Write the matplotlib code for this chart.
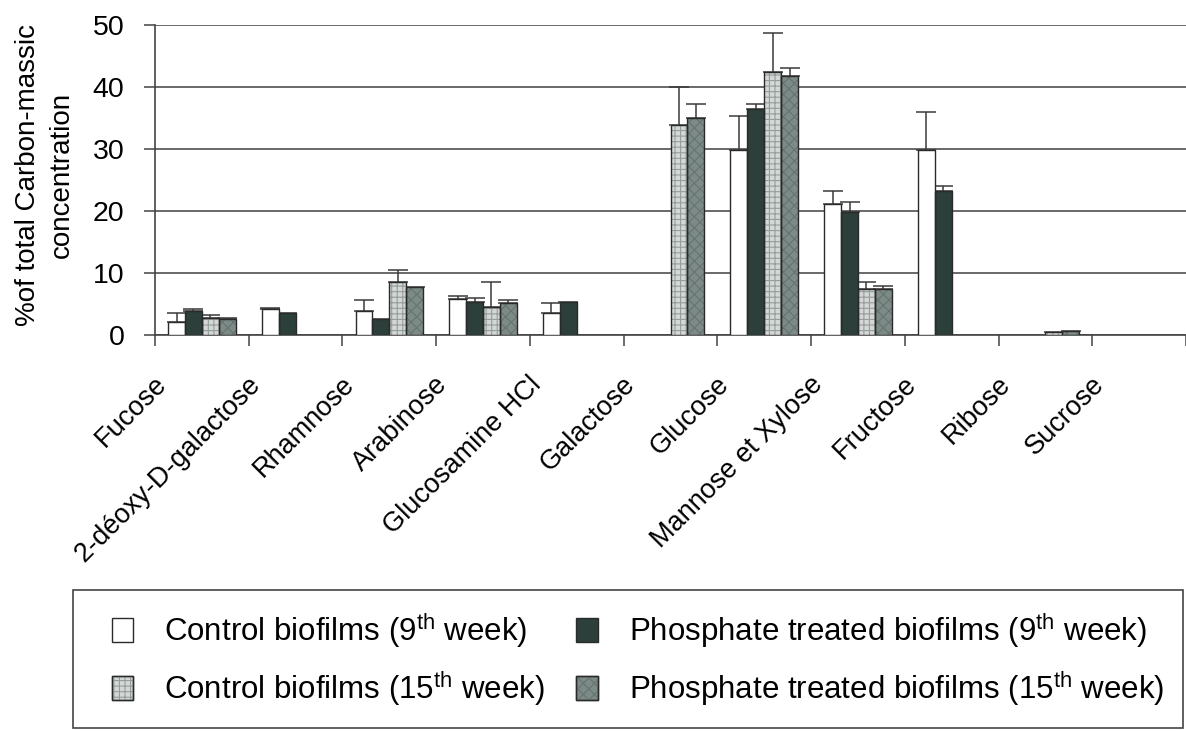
import numpy as np
import matplotlib.pyplot as plt
import matplotlib.transforms as mtransforms
from matplotlib.patches import Patch, Rectangle
from matplotlib.legend_handler import HandlerTuple

plt.rcParams['font.family'] = ['Liberation Sans', 'DejaVu Sans']
plt.rcParams['mathtext.fontset'] = 'custom'
plt.rcParams['mathtext.rm'] = 'Liberation Sans'
plt.rcParams['hatch.linewidth'] = 0.8

nan = np.nan
categories = ['Fucose', '2-déoxy-D-galactose', 'Rhamnose', 'Arabinose', 'Glucosamine HCl',
              'Galactose', 'Glucose', 'Mannose et Xylose', 'Fructose', 'Ribose', 'Sucrose']

control_9 = [2.1, 4.2, 3.9, 5.8, 3.6, nan, 29.9, 21.2, 29.9, nan, nan]
control_9_err = [1.4, 0.2, 1.7, 0.5, 1.6, nan, 5.5, 2.0, 6.1, nan, nan]
phosphate_9 = [3.9, 3.5, 2.5, 5.3, 5.3, nan, 36.5, 19.9, 23.2, nan, nan]
phosphate_9_err = [0.3, nan, nan, 0.6, nan, nan, 0.7, 1.6, 0.9, nan, nan]
control_15 = [2.7, nan, 8.5, 4.5, nan, 33.9, 42.5, 7.4, nan, 0.5, nan]
control_15_err = [0.5, nan, 2.0, 4.0, nan, 6.1, 6.2, 1.1, nan, nan, nan]
phosphate_15 = [2.6, nan, 7.8, 5.1, nan, 35.0, 41.7, 7.4, nan, 0.6, nan]
phosphate_15_err = [0.2, nan, nan, 0.6, nan, 2.2, 1.3, 0.5, nan, nan, nan]

labels = ['Control biofilms (9$^{\\mathrm{th}}$ week)',
          'Control biofilms (15$^{\\mathrm{th}}$ week)',
          'Phosphate treated biofilms (9$^{\\mathrm{th}}$ week)',
          'Phosphate treated biofilms (15$^{\\mathrm{th}}$ week)']

# face, hatch, hatch colour
styles = [('white', None, None),
          ('#2c3f3b', None, None),
          ('#d3d8d6', '+++', '#959e9b'),
          ('#7d8b88', 'xxx', '#66736f')]
series = [(control_9, control_9_err), (phosphate_9, phosphate_9_err),
          (control_15, control_15_err), (phosphate_15, phosphate_15_err)]

fig = plt.figure(figsize=(11.86, 7.31), dpi=100)
ax = fig.add_axes([155 / 1186, 1 - 335 / 731, 1 - 155 / 1186, 310 / 731])

x = np.arange(len(categories))
w = 0.18
handles = {}
for k, ((vals, errs), (face, hatch, hcol)) in enumerate(zip(series, styles)):
    pos = x + (k - 1.5) * w
    vals = np.array(vals)
    errs = np.array(errs)
    ax.bar(pos, vals, w, color=face, linewidth=0, zorder=3)
    if hatch:
        ax.bar(pos, vals, w, fill=False, edgecolor=hcol, linewidth=0, hatch=hatch, zorder=3.1)
    ax.bar(pos, vals, w, fill=False, edgecolor='#2a2a2a', linewidth=1.0, zorder=3.2)
    ax.errorbar(pos, vals, yerr=[np.zeros_like(errs), errs], fmt='none', ecolor='#3a3a3a',
                elinewidth=1.1, capsize=7, capthick=1.1, zorder=2.5)
    base = Patch(facecolor=face, edgecolor='#2a2a2a', linewidth=1.0)
    if hatch:
        handles[k] = (base, Patch(fill=False, edgecolor=hcol, linewidth=0, hatch=hatch),
                      Patch(fill=False, edgecolor='#2a2a2a', linewidth=1.0))
    else:
        handles[k] = (base,)

ax.set_xlim(-0.5, len(categories) - 0.5)
ax.set_ylim(0, 50)
ax.set_yticks(range(0, 51, 10))
ax.yaxis.grid(True, color='#5e5e5e', linewidth=1.3, zorder=0)
ax.set_axisbelow(True)
for s in ['top', 'right']:
    ax.spines[s].set_visible(False)
ax.spines['left'].set_color('#444444')
ax.spines['bottom'].set_color('#444444')
ax.spines['left'].set_linewidth(1.2)
ax.spines['bottom'].set_linewidth(1.2)
ax.tick_params(axis='y', length=8, width=1.1, color='#444444', pad=14, labelsize=20.5)

ax.set_xticks(np.arange(-0.5, len(categories), 1.0))
ax.set_xticklabels([])
ax.tick_params(axis='x', which='major', length=8, width=1.1, color='#444444')
ax.set_xticks(x, minor=True)
ax.set_xticklabels(categories, minor=True, rotation=45, ha='right', va='top', fontsize=19.5)
ax.tick_params(axis='x', which='minor', length=0, pad=26)
shift = mtransforms.ScaledTranslation(-30 / 100, 0, fig.dpi_scale_trans)
for lbl in ax.get_xticklabels(minor=True):
    lbl.set_transform(lbl.get_transform() + shift)

fig.text(45 / 1186, 1 - 175 / 731, '%of total Carbon-massic\nconcentration', rotation=90,
         ha='center', va='center', multialignment='center', fontsize=20, linespacing=1.4)

# legend box drawn separately so the padding can differ from the text spacing
fig.patches.append(Rectangle((73 / 1186, 1 - 728 / 731), 1110 / 1186, 138 / 731,
                             transform=fig.transFigure, facecolor='white',
                             edgecolor='#444444', linewidth=1.2, zorder=0))
leg = fig.legend([handles[0], handles[2], handles[1], handles[3]],
                 [labels[0], labels[1], labels[2], labels[3]],
                 handler_map={tuple: HandlerTuple(ndivide=1, pad=0)},
                 ncol=2, loc='upper left', bbox_to_anchor=(112 / 1186, 1 - 611 / 731),
                 fontsize=22.5, frameon=False,
                 handlelength=0.68, handleheight=0.8,
                 handletextpad=1.0, columnspacing=1.0, labelspacing=0.6, borderpad=0,
                 borderaxespad=0)

fig.savefig('out.png', dpi=100)
